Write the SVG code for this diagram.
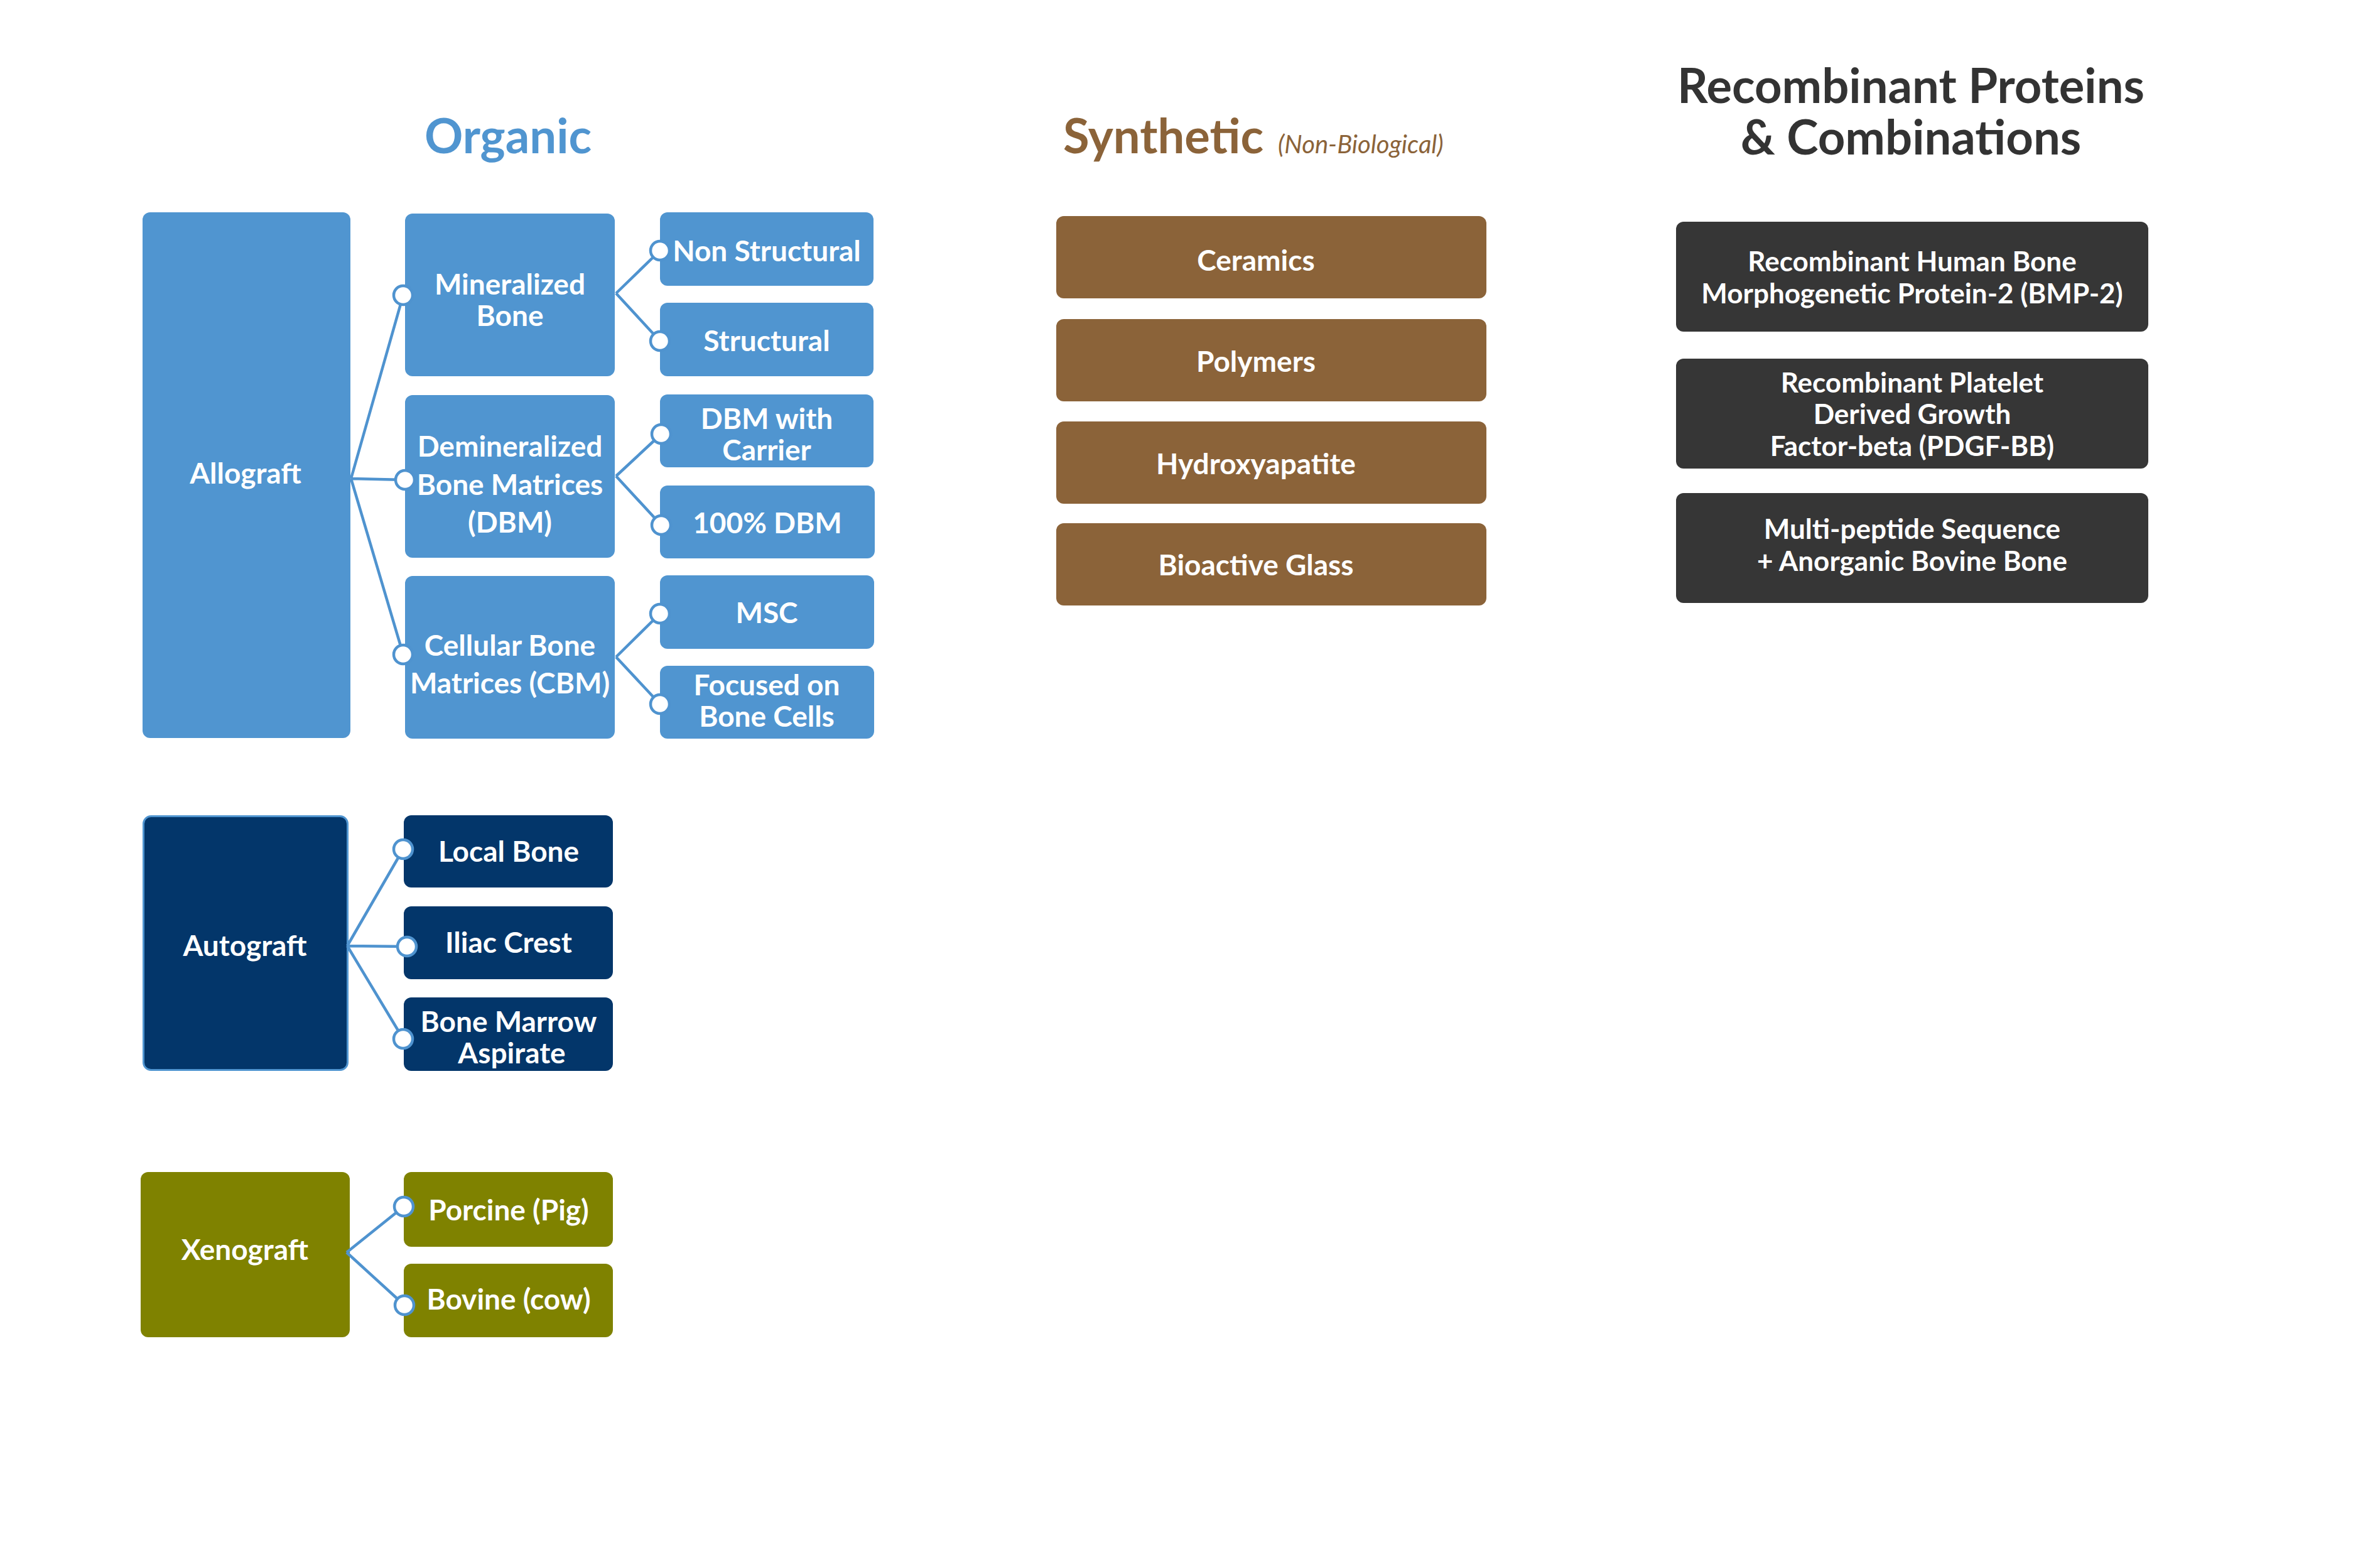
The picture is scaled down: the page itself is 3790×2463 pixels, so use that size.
<svg xmlns="http://www.w3.org/2000/svg" width="3790" height="2463" viewBox="0 0 3790 2463">
<style>
text{font-family:Lato,"Open Sans","Liberation Sans",sans-serif;font-weight:700;text-anchor:middle}
.t{font-size:46px;fill:#ffffff}
.tr{font-size:44px;fill:#ffffff}
.blue{fill:#5095d0}
.navy{fill:#03366a}
.olive{fill:#7f8200}
.brown{fill:#8b6339}
.dark{fill:#363636}
.ln{stroke:#4f93cf;stroke-width:4.5;fill:none}
.dot{fill:#ffffff;stroke:#4f93cf;stroke-width:4.5}
.h{font-size:76px}
</style>
<rect width="3790" height="2463" fill="#ffffff"/>

<g id="titles">
<text x="809" y="244" class="h" fill="#5095d0">Organic</text>
<text x="1693" y="244" class="h" fill="#8b6339" style="text-anchor:start">Synthetic<tspan x="2035" y="244" style="font-size:40px;font-style:italic;font-weight:400">(Non-Biological)</tspan></text>
<text x="3043" y="164" class="h" fill="#333333">Recombinant Proteins</text>
<text x="3043" y="246" class="h" fill="#333333">&amp; Combinations</text>
</g>

<g id="allograft"><rect x="227" y="338" width="331" height="837" rx="12" class="blue"/><text x="391" y="770" class="t">Allograft</text></g>
<g id="mineralized-bone"><rect x="645" y="340" width="334" height="259" rx="12" class="blue"/><text x="812" y="469" class="t">Mineralized</text><text x="812" y="519" class="t">Bone</text></g>
<g id="dbm"><rect x="645" y="629" width="334" height="259" rx="12" class="blue"/><text x="812" y="727" class="t">Demineralized</text><text x="812" y="788" class="t">Bone Matrices</text><text x="812" y="848" class="t">(DBM)</text></g>
<g id="cbm"><rect x="645" y="917" width="334" height="259" rx="12" class="blue"/><text x="812" y="1044" class="t">Cellular Bone</text><text x="812" y="1104" class="t">Matrices (CBM)</text></g>
<g id="non-structural"><rect x="1051" y="338" width="340" height="117" rx="12" class="blue"/><text x="1221" y="416" class="t">Non Structural</text></g>
<g id="structural"><rect x="1051" y="482" width="340" height="117" rx="12" class="blue"/><text x="1221" y="559" class="t">Structural</text></g>
<g id="dbm-carrier"><rect x="1051" y="628" width="340" height="116" rx="12" class="blue"/><text x="1221" y="683" class="t">DBM with</text><text x="1221" y="733" class="t">Carrier</text></g>
<g id="dbm-100"><rect x="1051" y="773" width="342" height="116" rx="12" class="blue"/><text x="1222" y="849" class="t">100% DBM</text></g>
<g id="msc"><rect x="1051" y="916" width="341" height="117" rx="12" class="blue"/><text x="1221" y="992" class="t">MSC</text></g>
<g id="focused"><rect x="1051" y="1060" width="341" height="116" rx="12" class="blue"/><text x="1221" y="1107" class="t">Focused on</text><text x="1221" y="1157" class="t">Bone Cells</text></g>

<g id="autograft"><rect x="228.5" y="1299.5" width="325" height="404" rx="12" class="navy" stroke="#5095d0" stroke-width="3"/><text x="390" y="1522" class="t">Autograft</text></g>
<g id="local-bone"><rect x="643" y="1298" width="333" height="115" rx="12" class="navy"/><text x="810" y="1372" class="t">Local Bone</text></g>
<g id="iliac-crest"><rect x="643" y="1443" width="333" height="116" rx="12" class="navy"/><text x="810" y="1517" class="t">Iliac Crest</text></g>
<g id="bone-marrow"><rect x="643" y="1588" width="333" height="117" rx="12" class="navy"/><text x="810" y="1643" class="t">Bone Marrow</text><text x="815" y="1693" class="t">Aspirate</text></g>

<g id="xenograft"><rect x="224" y="1866" width="333" height="263" rx="12" class="olive"/><text x="390" y="2006" class="t">Xenograft</text></g>
<g id="porcine"><rect x="643" y="1866" width="333" height="119" rx="12" class="olive"/><text x="810" y="1943" class="t">Porcine (Pig)</text></g>
<g id="bovine"><rect x="643" y="2012" width="333" height="117" rx="12" class="olive"/><text x="810" y="2085" class="t">Bovine (cow)</text></g>

<g id="ceramics"><rect x="1682" y="344" width="685" height="131" rx="12" class="brown"/><text x="2000" y="431" class="t">Ceramics</text></g>
<g id="polymers"><rect x="1682" y="508" width="685" height="131" rx="12" class="brown"/><text x="2000" y="592" class="t">Polymers</text></g>
<g id="hydroxyapatite"><rect x="1682" y="671" width="685" height="131" rx="12" class="brown"/><text x="2000" y="755" class="t">Hydroxyapatite</text></g>
<g id="bioactive-glass"><rect x="1682" y="833" width="685" height="131" rx="12" class="brown"/><text x="2000" y="916" class="t">Bioactive Glass</text></g>

<g id="bmp2"><rect x="2669" y="353" width="752" height="175" rx="12" class="dark"/><text x="3045" y="432" class="tr">Recombinant Human Bone</text><text x="3045" y="483" class="tr">Morphogenetic Protein-2 (BMP-2)</text></g>
<g id="pdgf"><rect x="2669" y="571" width="752" height="175" rx="12" class="dark"/><text x="3045" y="625" class="tr">Recombinant Platelet</text><text x="3045" y="675" class="tr">Derived Growth</text><text x="3045" y="726" class="tr">Factor-beta (PDGF-BB)</text></g>
<g id="multipeptide"><rect x="2669" y="785" width="752" height="175" rx="12" class="dark"/><text x="3045" y="858" class="tr">Multi-peptide Sequence</text><text x="3045" y="909" class="tr">+ Anorganic Bovine Bone</text></g>

<g id="connectors">
<path class="ln" d="M559,762 L642,470 M559,762 L645,764 M559,762 L642,1042"/>
<path class="ln" d="M981,467 L1051,399 M981,467 L1051,543"/>
<path class="ln" d="M981,758 L1053,691 M981,758 L1053,836"/>
<path class="ln" d="M981,1046 L1051,977 M981,1046 L1051,1121"/>
<path class="ln" d="M553,1506 L642,1352 M553,1506 L648,1507 M553,1506 L642,1654"/>
<path class="ln" d="M552,1994 L643,1921 M552,1994 L644,2078"/>
<circle class="dot" cx="642" cy="470" r="15"/>
<circle class="dot" cx="645" cy="764" r="15"/>
<circle class="dot" cx="642" cy="1042" r="15"/>
<circle class="dot" cx="1051" cy="399" r="15"/>
<circle class="dot" cx="1051" cy="543" r="15"/>
<circle class="dot" cx="1053" cy="691" r="15"/>
<circle class="dot" cx="1053" cy="836" r="15"/>
<circle class="dot" cx="1051" cy="977" r="15"/>
<circle class="dot" cx="1051" cy="1121" r="15"/>
<circle class="dot" cx="642" cy="1352" r="15"/>
<circle class="dot" cx="648" cy="1507" r="15"/>
<circle class="dot" cx="642" cy="1654" r="15"/>
<circle class="dot" cx="643" cy="1921" r="15"/>
<circle class="dot" cx="644" cy="2078" r="15"/>
</g>
</svg>
